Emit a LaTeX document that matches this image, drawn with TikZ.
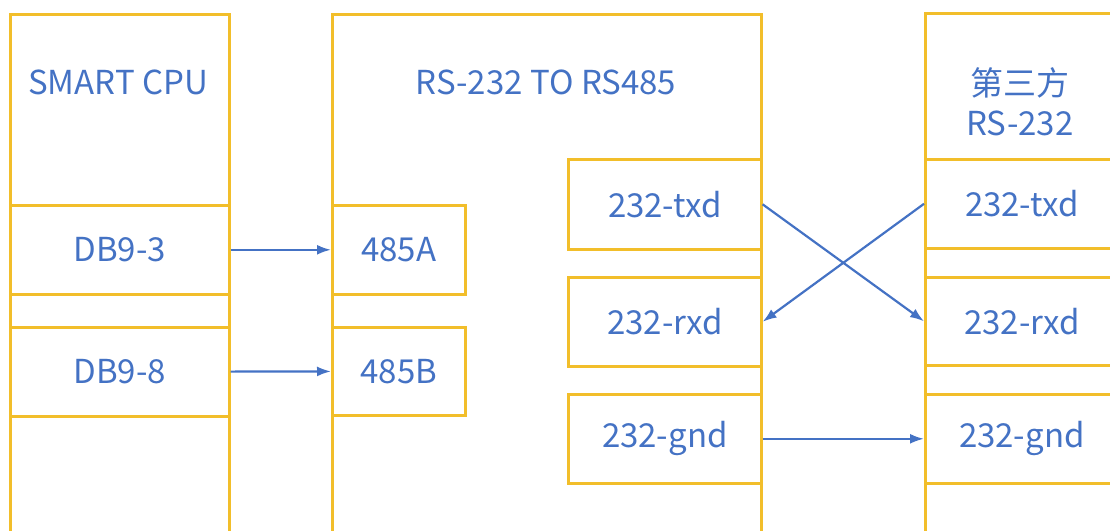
\documentclass[tikz,border=0pt]{standalone}
\usepackage{fontspec}
\setmainfont{Noto Sans CJK SC}
\usetikzlibrary{arrows.meta, positioning}
\definecolor{boxyellow}{RGB}{242,190,42}
\definecolor{textblue}{RGB}{68,114,196}

\begin{document}
\begin{tikzpicture}[x=1pt, y=-1pt,
    frame/.style={rectangle, draw=boxyellow, line width=2.6pt, inner sep=0pt, anchor=north west},
    port/.style={frame, text=textblue, font=\fontsize{33}{39}\selectfont},
    title/.style={text=textblue, font=\fontsize{33}{40}\selectfont, align=center},
    link/.style={-{Latex[length=14pt,width=10pt]}, draw=textblue, line width=2.2pt}]

    \useasboundingbox (0,0) rectangle (1110,530);
    \clip (0,0) rectangle (1110,530);

    % the three devices
    \node[frame, minimum width=219pt, minimum height=540pt] (cpu) at (9,13) {};
    \node[frame, minimum width=429pt, minimum height=540pt] (conv) at (331,13) {};
    \node[frame, minimum width=193pt, minimum height=540pt] (third) at (924,12) {};

    \node[title] (cputitle) at (118,82) {SMART CPU};
    \node[title] (convtitle) at (546,82) {RS-232 TO RS485};
    \node[title] (thirdtitle) at (1020,102) {第三方\\RS-232};

    % SMART CPU pins
    \node[port, minimum width=219pt, minimum height=89pt] (db93) at (9,204) {DB9-3};
    \node[port, minimum width=219pt, minimum height=89pt] (db98) at (9,326) {DB9-8};

    % converter pins
    \node[port, minimum width=133pt, minimum height=89pt] (a485) at (331,204) {485A};
    \node[port, minimum width=133pt, minimum height=88pt] (b485) at (331,326) {485B};
    \node[port, minimum width=193pt, minimum height=90pt] (ltxd) at (567,158) {232-txd};
    \node[port, minimum width=193pt, minimum height=89pt] (lrxd) at (567,276) {232-rxd};
    \node[port, minimum width=193pt, minimum height=89pt] (lgnd) at (567,393) {232-gnd};

    % third party pins
    \node[port, minimum width=193pt, minimum height=89pt] (rtxd) at (924,158) {232-txd};
    \node[port, minimum width=193pt, minimum height=88pt] (rrxd) at (924,276) {232-rxd};
    \node[port, minimum width=193pt, minimum height=89pt] (rgnd) at (924,393) {232-gnd};

    % wiring
    \draw[link] (db93) -- (a485);
    \draw[link] (db98) -- (b485);
    \draw[link] (ltxd.east) -- (rrxd.west);
    \draw[link] (rtxd.west) -- (lrxd.east);
    \draw[link] (lgnd) -- (rgnd);
\end{tikzpicture}
\end{document}
